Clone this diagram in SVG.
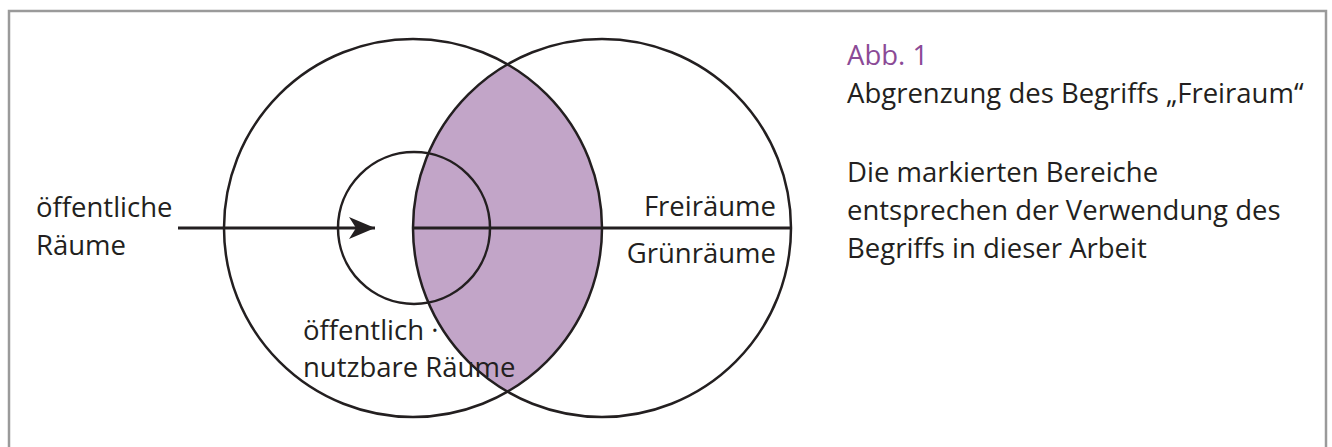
<svg xmlns="http://www.w3.org/2000/svg" width="1332" height="447" viewBox="0 0 1332 447">
<style>
.t{font-family:"Open Sans","Noto Sans",sans-serif;font-size:27.5px;fill:#231f20}
.c{fill:none;stroke:#231f20;stroke-width:2.5}
.ln{stroke:#231f20;stroke-width:3}
</style>
<defs>
<marker id="ah" markerUnits="userSpaceOnUse" markerWidth="30" markerHeight="24" refX="26" refY="12" orient="auto">
<path d="M0 1 L26 12 L0 23 L7 12 Z" fill="#231f20"/>
</marker>
</defs>
<rect id="frame" x="9" y="11" width="1317" height="470" fill="#fff" stroke="#9a9a9a" stroke-width="2.5"/>
<g id="freiraum-lens">
<path d="M507.5 64.3 A189 189 0 0 1 507.5 391.7 A189 189 0 0 1 507.5 64.3 Z" fill="#c2a5c8"/>
</g>
<g id="oeffentliche-raeume-circle"><circle class="c" cx="413" cy="228" r="189"/></g>
<g id="gruenraeume-circle"><circle class="c" cx="602" cy="228" r="189"/></g>
<g id="nutzbare-circle"><circle class="c" cx="414" cy="228" r="76"/></g>
<g id="connectors">
<line class="ln" x1="178" y1="228" x2="375" y2="228" marker-end="url(#ah)"/>
<line class="ln" x1="413" y1="228" x2="792" y2="228"/>
</g>
<g id="labels">
<text class="t" x="36" y="217">öffentliche</text>
<text class="t" x="36" y="255">Räume</text>
<text class="t" x="776" y="216" text-anchor="end">Freiräume</text>
<text class="t" x="776" y="263" text-anchor="end">Grünräume</text>
<text class="t" x="303" y="340">öffentlich ·</text>
<text class="t" x="303" y="377">nutzbare Räume</text>
</g>
<g id="caption">
<text class="t" x="847" y="65" style="fill:#8b4a96">Abb. 1</text>
<text class="t" x="847" y="103">Abgrenzung des Begriffs „Freiraum“</text>
<text class="t" x="847" y="182">Die markierten Bereiche</text>
<text class="t" x="847" y="220">entsprechen der Verwendung des</text>
<text class="t" x="847" y="258">Begriffs in dieser Arbeit</text>
</g>
</svg>
